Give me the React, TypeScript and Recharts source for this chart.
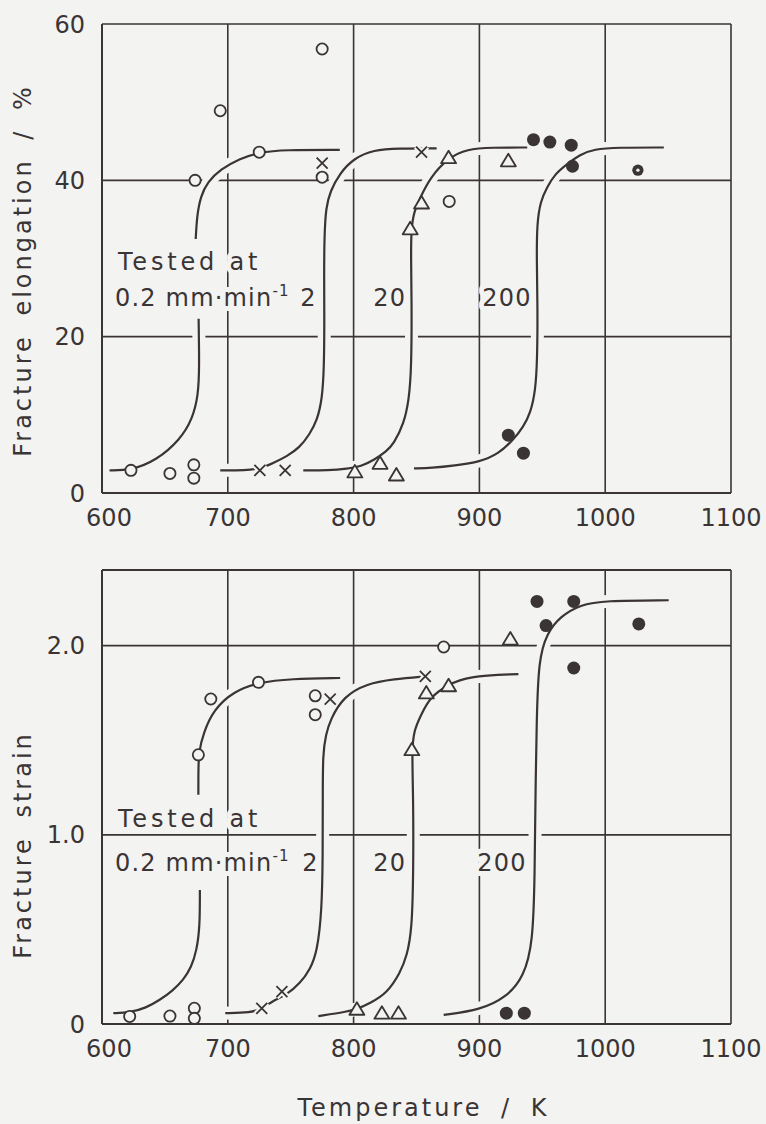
import React from 'react';
import {
  ComposedChart,
  Line,
  Scatter,
  XAxis,
  YAxis,
  CartesianGrid,
  ReferenceLine,
  Label,
} from 'recharts';

const INK = '#3a3435';
const BG = '#f3f3f1';
const FONT = '"DejaVu Sans", Verdana, sans-serif';

type Pt = { t: number; v: number | null };
type Note = { t: number; v: number; text: string; sup?: string };

// ---------- axes ----------
const tempTicks = [600, 700, 800, 900, 1000, 1100];
const elongTicks = [0, 20, 40, 60];
const strainTicks = [0, 1.0, 2.0];

// ---------- top panel: fracture elongation / % ----------
const elongCircles: Pt[] = [
  { t: 623, v: 2.9 }, { t: 654, v: 2.5 }, { t: 673, v: 3.6 }, { t: 673, v: 1.9 },
  { t: 674, v: 40 }, { t: 694, v: 48.9 }, { t: 725, v: 43.6 }, { t: 775, v: 56.8 },
  { t: 775, v: 40.4 }, { t: 876, v: 37.3 },
];
const elongCrosses: Pt[] = [
  { t: 725.5, v: 2.9 }, { t: 745.6, v: 2.9 }, { t: 775, v: 42.2 }, { t: 854, v: 43.6 },
];
const elongTriangles: Pt[] = [
  { t: 801, v: 2.7 }, { t: 821, v: 3.8 }, { t: 834, v: 2.3 }, { t: 845, v: 33.8 },
  { t: 854, v: 37.1 }, { t: 875.5, v: 42.9 }, { t: 923, v: 42.5 },
];
const elongDots: Pt[] = [
  { t: 923, v: 7.4 }, { t: 935, v: 5.1 }, { t: 943, v: 45.2 }, { t: 956, v: 44.9 },
  { t: 973, v: 44.5 }, { t: 974, v: 41.8 },
];
const elongRingDots: Pt[] = [{ t: 1026, v: 41.3 }];

const elongCurve02: Pt[] = [
  { t: 606, v: 2.9 }, { t: 623, v: 2.9 }, { t: 643.5, v: 4.2 }, { t: 662, v: 6.8 },
  { t: 672, v: 9.5 }, { t: 676.5, v: 12.5 }, { t: 677.4, v: 16 }, { t: 676.8, v: 22.3 },
  { t: 676, v: null },
  { t: 674.5, v: 32.5 }, { t: 675.5, v: 35.5 }, { t: 678.5, v: 38 }, { t: 684, v: 39.8 },
  { t: 694, v: 41.4 }, { t: 709.8, v: 42.8 }, { t: 725, v: 43.6 }, { t: 745, v: 43.9 },
  { t: 789, v: 43.9 },
];
const elongCurve2: Pt[] = [
  { t: 694, v: 2.9 }, { t: 714, v: 2.9 }, { t: 726, v: 3.1 }, { t: 737, v: 3.9 },
  { t: 747, v: 4.7 }, { t: 757, v: 5.8 }, { t: 765, v: 7.5 }, { t: 771, v: 9.3 },
  { t: 775, v: 12 }, { t: 776.5, v: 16 }, { t: 776.8, v: 22 }, { t: 776.5, v: 28 },
  { t: 776.8, v: 33 }, { t: 778, v: 36.5 }, { t: 781.4, v: 38.6 }, { t: 789, v: 40.9 },
  { t: 800, v: 42.8 }, { t: 816, v: 43.9 }, { t: 835, v: 44.1 }, { t: 866, v: 44.1 },
];
const elongCurve20: Pt[] = [
  { t: 760, v: 2.9 }, { t: 780, v: 2.9 }, { t: 795, v: 3.1 }, { t: 806, v: 3.4 },
  { t: 816, v: 4.2 }, { t: 826, v: 5.3 }, { t: 832, v: 6.3 }, { t: 840, v: 8.9 },
  { t: 844, v: 11.9 }, { t: 846, v: 16 }, { t: 846.2, v: 24.6 }, { t: 845.6, v: 30 },
  { t: 845.8, v: 33.8 }, { t: 848, v: 36 }, { t: 853, v: 37.8 }, { t: 861, v: 40.4 },
  { t: 875.5, v: 42.9 }, { t: 890, v: 44 }, { t: 910, v: 44.2 }, { t: 938, v: 44.2 },
];
const elongCurve200: Pt[] = [
  { t: 848, v: 3.15 }, { t: 862, v: 3.2 }, { t: 880, v: 3.5 }, { t: 900.7, v: 4.0 },
  { t: 915, v: 5.0 }, { t: 927, v: 6.8 }, { t: 935, v: 8.5 }, { t: 940.5, v: 10.2 },
  { t: 944.5, v: 13 }, { t: 946, v: 17 }, { t: 946.3, v: 24 }, { t: 945.5, v: 30 },
  { t: 945.8, v: 34.5 }, { t: 948.5, v: 37.3 }, { t: 953.7, v: 39.1 }, { t: 960, v: 40.8 },
  { t: 969.7, v: 42.1 }, { t: 980, v: 43.3 }, { t: 991, v: 44 }, { t: 1010, v: 44.2 },
  { t: 1046.6, v: 44.2 },
];
const elongNotes: Note[] = [
  { t: 612.7, v: 28.5, text: 'Tested at' },
  { t: 610.3, v: 23.9, text: '0.2 mm·min', sup: '-1' },
  { t: 757.5, v: 23.9, text: '2' },
  { t: 815.6, v: 23.9, text: '20' },
  { t: 902.3, v: 23.9, text: '200' },
];

// ---------- bottom panel: fracture strain ----------
const strainCircles: Pt[] = [
  { t: 622, v: 0.04 }, { t: 654, v: 0.042 }, { t: 673.4, v: 0.083 }, { t: 673.4, v: 0.03 },
  { t: 676.6, v: 1.423 }, { t: 686.5, v: 1.718 }, { t: 724.4, v: 1.806 },
  { t: 769.5, v: 1.735 }, { t: 769.5, v: 1.635 }, { t: 871.6, v: 1.993 },
];
const strainCrosses: Pt[] = [
  { t: 727, v: 0.083 }, { t: 743, v: 0.171 }, { t: 781.4, v: 1.718 }, { t: 857, v: 1.838 },
];
const strainTriangles: Pt[] = [
  { t: 802.6, v: 0.078 }, { t: 822.5, v: 0.057 }, { t: 835.7, v: 0.057 }, { t: 846.3, v: 1.45 },
  { t: 857.8, v: 1.75 }, { t: 875.5, v: 1.788 }, { t: 924.6, v: 2.035 },
];
const strainDots: Pt[] = [
  { t: 921.4, v: 0.057 }, { t: 935.7, v: 0.057 }, { t: 945.8, v: 2.234 }, { t: 953, v: 2.106 },
  { t: 975, v: 2.234 }, { t: 975, v: 1.882 }, { t: 1026.7, v: 2.115 },
];

const strainCurve02: Pt[] = [
  { t: 609, v: 0.057 }, { t: 622, v: 0.06 }, { t: 635, v: 0.085 }, { t: 646, v: 0.127 },
  { t: 656, v: 0.175 }, { t: 664.7, v: 0.233 }, { t: 671, v: 0.3 }, { t: 675.3, v: 0.39 },
  { t: 677.8, v: 0.515 }, { t: 677.8, v: 0.709 },
  { t: 677, v: null },
  { t: 676.6, v: 1.212 }, { t: 676.6, v: 1.344 }, { t: 677, v: 1.44 }, { t: 680.6, v: 1.538 },
  { t: 688.6, v: 1.661 }, { t: 704.5, v: 1.758 }, { t: 724.4, v: 1.806 }, { t: 750, v: 1.825 },
  { t: 789.3, v: 1.829 },
];
const strainCurve2: Pt[] = [
  { t: 698, v: 0.057 }, { t: 718, v: 0.06 }, { t: 727, v: 0.08 }, { t: 735, v: 0.12 },
  { t: 747, v: 0.155 }, { t: 757.5, v: 0.215 }, { t: 765.5, v: 0.29 }, { t: 771, v: 0.38 },
  { t: 774.8, v: 0.6 }, { t: 775.5, v: 0.9 }, { t: 775.5, v: 1.185 }, { t: 775.5, v: 1.43 },
  { t: 778, v: 1.53 }, { t: 781.4, v: 1.608 }, { t: 792, v: 1.732 }, { t: 810.6, v: 1.8 },
  { t: 831.7, v: 1.823 }, { t: 857, v: 1.838 },
];
const strainCurve20: Pt[] = [
  { t: 772, v: 0.042 }, { t: 794.7, v: 0.065 }, { t: 802.6, v: 0.078 }, { t: 813.2, v: 0.11 },
  { t: 826.5, v: 0.162 }, { t: 837, v: 0.27 }, { t: 842.4, v: 0.36 }, { t: 846.4, v: 0.5 },
  { t: 847.5, v: 0.8 }, { t: 847.5, v: 1.185 }, { t: 846.3, v: 1.45 }, { t: 848, v: 1.55 },
  { t: 853, v: 1.626 }, { t: 861, v: 1.732 }, { t: 875.5, v: 1.794 }, { t: 890, v: 1.838 },
  { t: 931, v: 1.85 },
];
const strainCurve200: Pt[] = [
  { t: 871.6, v: 0.048 }, { t: 900.7, v: 0.074 }, { t: 922, v: 0.144 }, { t: 935.2, v: 0.25 },
  { t: 942.6, v: 0.427 }, { t: 944, v: 0.8 }, { t: 944.5, v: 1.185 }, { t: 945.5, v: 1.6 },
  { t: 947, v: 1.926 }, { t: 953.7, v: 2.067 }, { t: 964.4, v: 2.155 }, { t: 980.3, v: 2.217 },
  { t: 998.8, v: 2.238 }, { t: 1050.5, v: 2.24 },
];
const strainNotes: Note[] = [
  { t: 612.7, v: 1.044, text: 'Tested at' },
  { t: 610.3, v: 0.81, text: '0.2 mm·min', sup: '-1' },
  { t: 759.1, v: 0.81, text: '2' },
  { t: 815.6, v: 0.81, text: '20' },
  { t: 898.3, v: 0.81, text: '200' },
];

// ---------- marker shapes ----------
const OpenCircle = (p: any) => (
  <circle cx={p.cx} cy={p.cy} r={5.6} fill={BG} stroke={INK} strokeWidth={1.8} />
);
const Cross = (p: any) => {
  const s = 5.5;
  const d = `M${p.cx - s},${p.cy - s}L${p.cx + s},${p.cy + s}M${p.cx - s},${p.cy + s}L${p.cx + s},${p.cy - s}`;
  return (
    <g>
      <path d={d} stroke={BG} strokeWidth={6} />
      <path d={d} stroke={INK} strokeWidth={1.8} />
    </g>
  );
};
const Triangle = (p: any) => {
  const pts = `${p.cx},${p.cy - 7} ${p.cx - 7.5},${p.cy + 5.5} ${p.cx + 7.5},${p.cy + 5.5}`;
  return <polygon points={pts} fill={BG} stroke={INK} strokeWidth={1.8} strokeLinejoin="round" />;
};
const Dot = (p: any) => <circle cx={p.cx} cy={p.cy} r={6.5} fill={INK} />;
const RingDot = (p: any) => (
  <g>
    <circle cx={p.cx} cy={p.cy} r={5.6} fill={INK} />
    <circle cx={p.cx} cy={p.cy} r={1.7} fill={BG} />
  </g>
);
const NoteText = (p: any) => {
  const n: Note = p.payload;
  const wide = n.text === 'Tested at';
  return (
    <text
      x={p.cx}
      y={p.cy}
      textAnchor="start"
      fontFamily={FONT}
      fontSize={24}
      letterSpacing={wide ? 3.8 : 1.2}
      fill={INK}
      stroke={BG}
      strokeWidth={10}
      strokeLinejoin="round"
      style={{ paintOrder: 'stroke' }}
    >
      {n.text}
      {n.sup ? (
        <tspan fontSize={15} dy={-10}>
          {n.sup}
        </tspan>
      ) : null}
    </text>
  );
};

const TempTick = (p: any) => {
  const v = p.payload.value;
  return (
    <text
      x={p.x + (v === 600 ? 7 : 0)}
      y={p.y}
      dy="0.71em"
      textAnchor="middle"
      fontFamily={FONT}
      fontSize={24}
      fill={INK}
    >
      {v}
    </text>
  );
};

const yTitle = (text: string, shift: number) => (props: any) => {
  const vb = props.viewBox;
  const cx = vb.x + 23;
  const cy = vb.y + vb.height / 2 + shift;
  return (
    <text
      x={cx}
      y={cy}
      transform={`rotate(-90 ${cx} ${cy})`}
      textAnchor="middle"
      dominantBaseline="central"
      fontFamily={FONT}
      fontSize={24}
      letterSpacing={3}
      wordSpacing={8}
      fill={INK}
    >
      {text}
    </text>
  );
};

const xTitle = (text: string) => (props: any) => {
  const vb = props.viewBox;
  const cx = vb.x + vb.width / 2 + 7;
  const cy = vb.y + 84;
  return (
    <text
      x={cx}
      y={cy}
      textAnchor="middle"
      dominantBaseline="central"
      fontFamily={FONT}
      fontSize={24}
      letterSpacing={3}
      wordSpacing={8}
      fill={INK}
    >
      {text}
    </text>
  );
};

const casing = (data: Pt[], key: string) => (
  <Line
    key={key}
    data={data}
    dataKey="v"
    type="basis"
    stroke={BG}
    strokeWidth={13}
    dot={false}
    activeDot={false}
    legendType="none"
    isAnimationActive={false}
  />
);
const curve = (data: Pt[], key: string) => (
  <Line
    key={key}
    data={data}
    dataKey="v"
    type="basis"
    stroke={INK}
    strokeWidth={2.2}
    dot={false}
    activeDot={false}
    legendType="none"
    isAnimationActive={false}
  />
);

const tickStyle = { fontFamily: FONT, fontSize: 24, fill: INK };

type PanelProps = {
  height: number;
  top: number;
  xAxisHeight: number;
  yDomain: [number, number];
  yTicks: number[];
  yFmt: (v: number) => string;
  yLabel: string;
  yShift: number;
  xLabel?: string;
  curves: Pt[][];
  circles: Pt[];
  crosses: Pt[];
  triangles: Pt[];
  dots: Pt[];
  ringDots: Pt[];
  notes: Note[];
  topBorder?: number;
};

const Panel = (p: PanelProps) => (
  <ComposedChart
    width={766}
    height={p.height}
    margin={{ top: p.top, right: 35, bottom: 0, left: 0 }}
    style={{ background: BG }}
  >
    <CartesianGrid stroke={INK} strokeWidth={1.6} horizontal vertical />
    <XAxis
      type="number"
      dataKey="t"
      domain={[600, 1100]}
      ticks={tempTicks}
      allowDataOverflow
      height={p.xAxisHeight}
      tickSize={0}
      tickMargin={16}
      tick={<TempTick />}
      axisLine={{ stroke: INK, strokeWidth: 2 }}
      tickLine={false}
    >
      {p.xLabel ? <Label content={xTitle(p.xLabel)} /> : null}
    </XAxis>
    <YAxis
      type="number"
      dataKey="v"
      domain={p.yDomain}
      ticks={p.yTicks}
      allowDataOverflow
      width={102}
      tickSize={0}
      tickMargin={17}
      tick={tickStyle}
      tickFormatter={p.yFmt}
      axisLine={{ stroke: INK, strokeWidth: 2 }}
      tickLine={false}
    >
      <Label content={yTitle(p.yLabel, p.yShift)} />
    </YAxis>
    {p.topBorder !== undefined ? (
      <ReferenceLine y={p.topBorder} stroke={INK} strokeWidth={2} ifOverflow="visible" />
    ) : null}
    <Scatter data={p.notes} dataKey="v" shape={NoteText} isAnimationActive={false} legendType="none" />
    {p.curves.map((c, i) => casing(c, 'case' + i))}
    {p.curves.map((c, i) => curve(c, 'curve' + i))}
    <Scatter data={p.circles} dataKey="v" shape={OpenCircle} isAnimationActive={false} legendType="none" />
    <Scatter data={p.crosses} dataKey="v" shape={Cross} isAnimationActive={false} legendType="none" />
    <Scatter data={p.triangles} dataKey="v" shape={Triangle} isAnimationActive={false} legendType="none" />
    <Scatter data={p.dots} dataKey="v" shape={Dot} isAnimationActive={false} legendType="none" />
    <Scatter data={p.ringDots} dataKey="v" shape={RingDot} isAnimationActive={false} legendType="none" />
  </ComposedChart>
);

export default function App() {
  return (
    <div
      style={{
        position: 'absolute',
        left: 0,
        top: 0,
        width: 766,
        height: 1124,
        background: BG,
        overflow: 'hidden',
      }}
    >
      <Panel
        height={540}
        top={24}
        xAxisHeight={47}
        yDomain={[0, 60]}
        yTicks={elongTicks}
        yFmt={(v) => String(v)}
        yLabel="Fracture elongation / %"
        yShift={12}
        curves={[elongCurve02, elongCurve2, elongCurve20, elongCurve200]}
        circles={elongCircles}
        crosses={elongCrosses}
        triangles={elongTriangles}
        dots={elongDots}
        ringDots={elongRingDots}
        notes={elongNotes}
      />
      <Panel
        height={584}
        top={30}
        xAxisHeight={100}
        yDomain={[0, 2.4]}
        yTicks={strainTicks}
        yFmt={(v) => (v === 0 ? '0' : v.toFixed(1))}
        yLabel="Fracture strain"
        yShift={48}
        xLabel="Temperature / K"
        curves={[strainCurve02, strainCurve2, strainCurve20, strainCurve200]}
        circles={strainCircles}
        crosses={strainCrosses}
        triangles={strainTriangles}
        dots={strainDots}
        ringDots={[]}
        notes={strainNotes}
        topBorder={2.4}
      />
    </div>
  );
}
